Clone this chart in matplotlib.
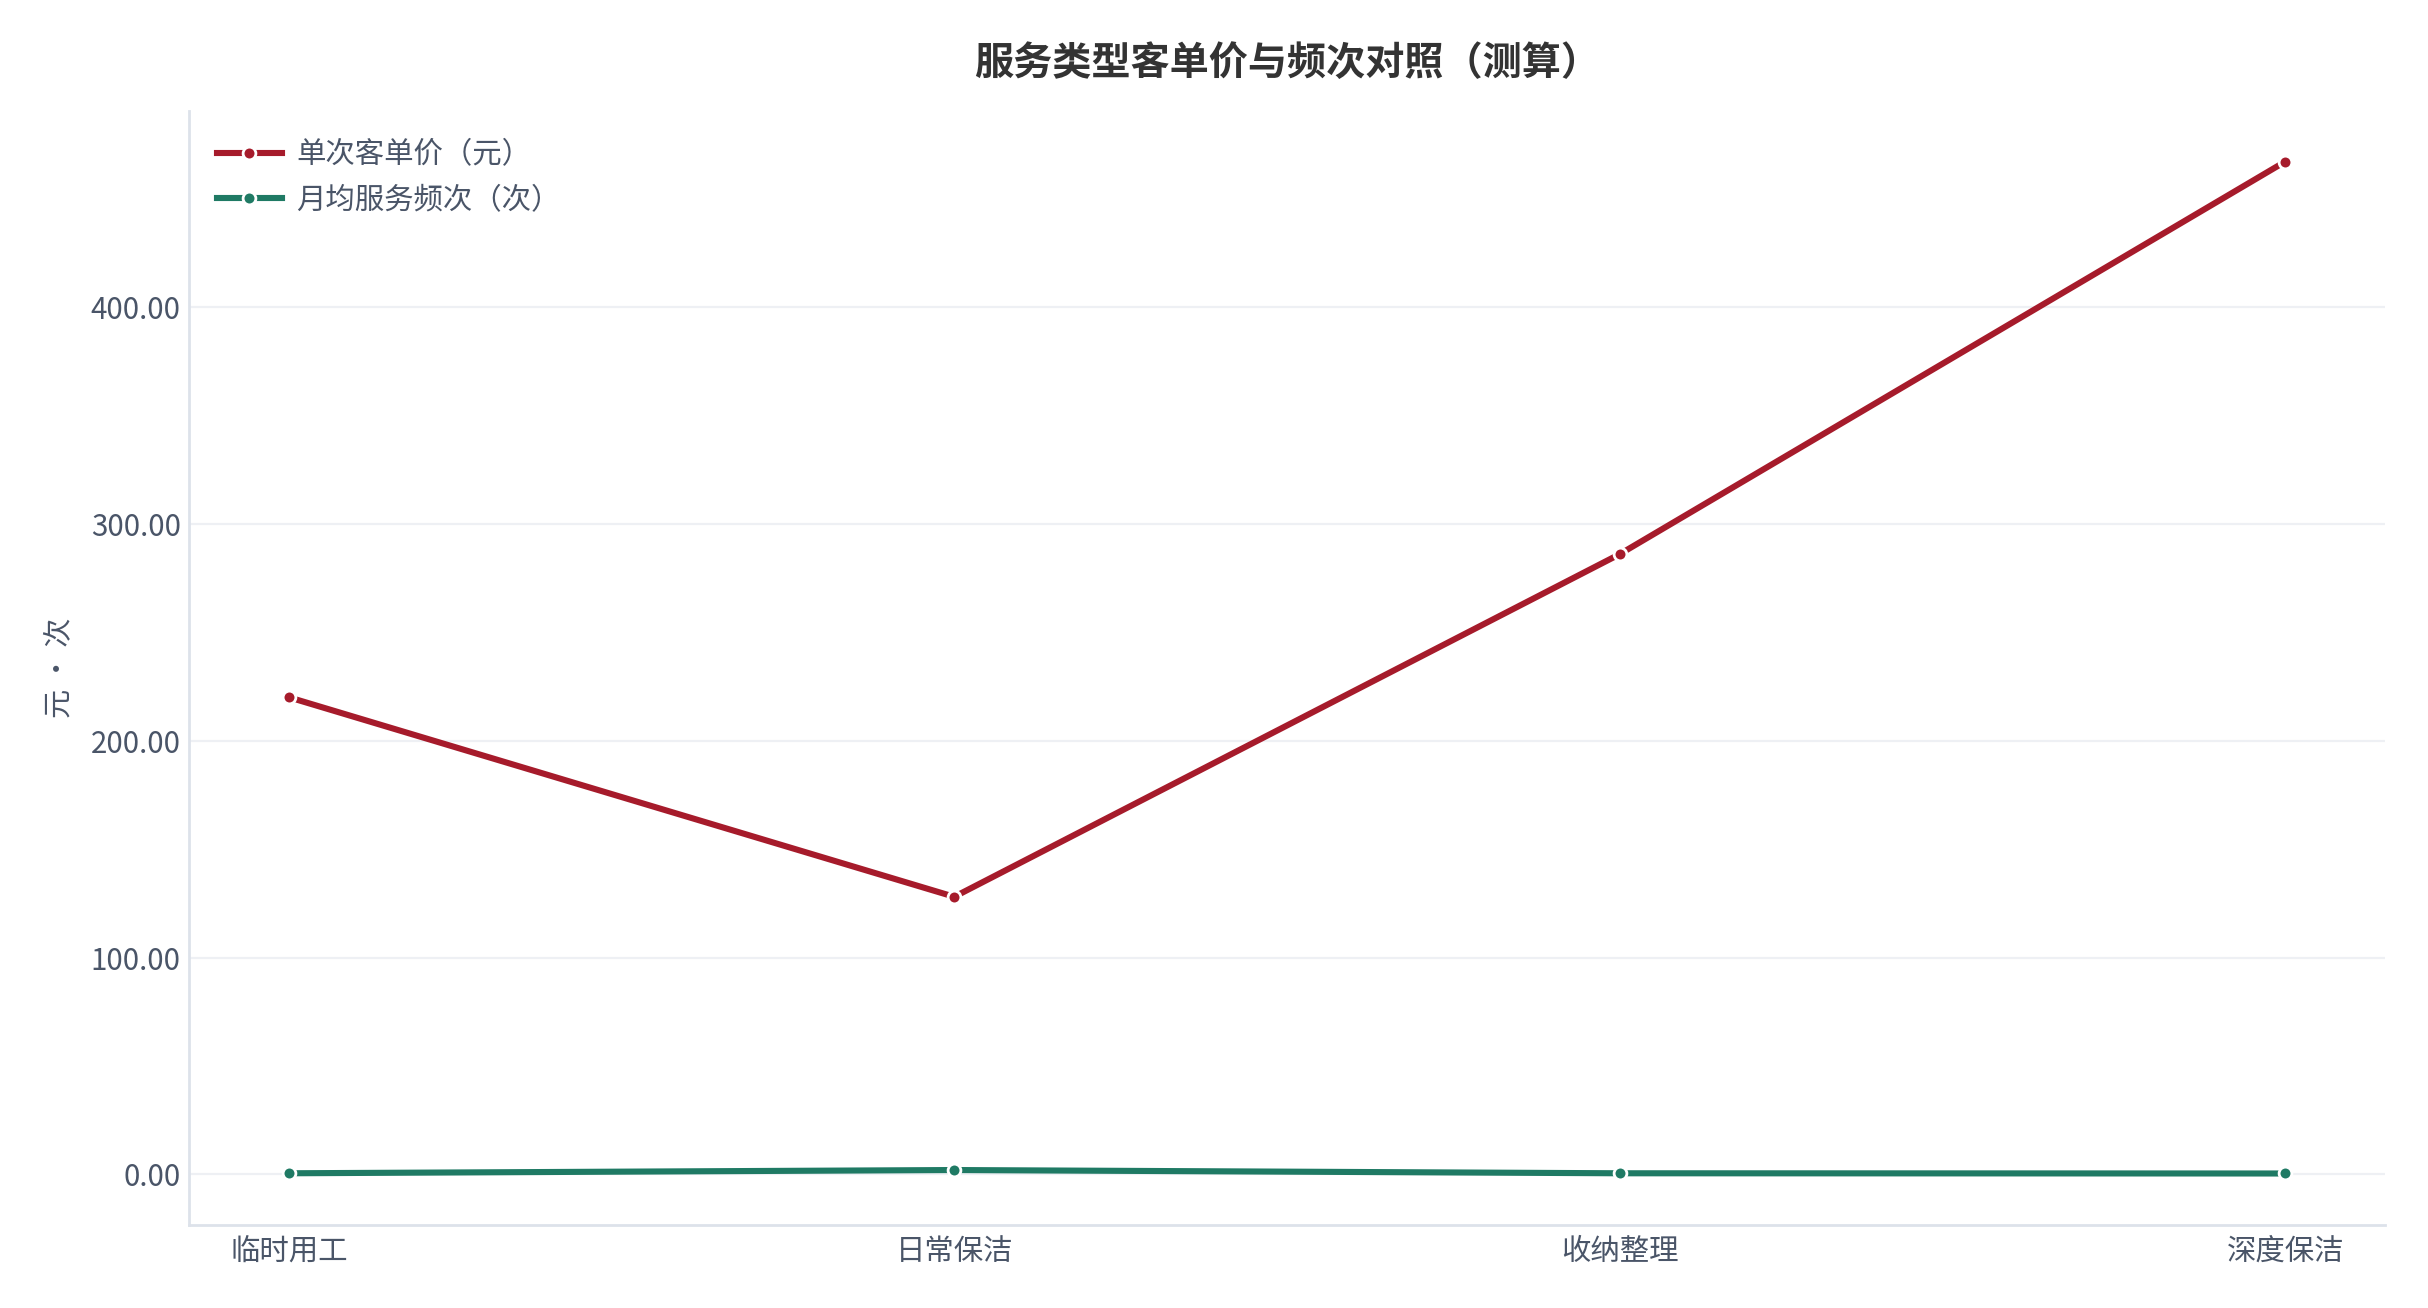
import matplotlib
matplotlib.use("Agg")
import matplotlib.pyplot as plt
from matplotlib.ticker import FormatStrFormatter

plt.rcParams["font.family"] = ["Noto Sans CJK SC", "DejaVu Sans"]

CATEGORIES = ["临时用工", "日常保洁", "收纳整理", "深度保洁"]
PRICE = [220, 128, 286, 467]          # 单次客单价（元）
FREQ = [0.5, 2.0, 0.5, 0.4]           # 月均服务频次（次）
SERIES_NAMES = ["单次客单价（元）", "月均服务频次（次）"]
TITLE = "服务类型客单价与频次对照（测算）"
YLABEL = "元 · 次"

TEXT = "#4a5568"
SPINE = "#dde2ea"
GRID = "#eef0f4"


def main():
    fig = plt.figure(figsize=(12.14, 6.54), dpi=200)
    ax = fig.add_axes([189 / 2428, 1 - 1225 / 1308, (2385 - 189) / 2428, (1225 - 111) / 1308])

    x = list(range(len(CATEGORIES)))
    for vals, name, c in zip([PRICE, FREQ], SERIES_NAMES, ["#a61b2b", "#1f7a64"]):
        ax.plot(x, vals, "-o", color=c, lw=2.2, ms=4.6, mec="white", mew=1.0,
                label=name, zorder=3)

    ax.set_xticks(x, CATEGORIES)
    ax.set_xlim(-0.15, 3.15)
    ax.set_ylim(-23.35, 490.35)
    ax.set_yticks([0, 100, 200, 300, 400])
    ax.yaxis.set_major_formatter(FormatStrFormatter("%.2f"))
    ax.tick_params(length=0, labelsize=10.6, labelcolor=TEXT)
    ax.tick_params(axis="x", pad=4)
    ax.tick_params(axis="y", pad=3)
    ax.grid(axis="y", color=GRID, lw=0.8, zorder=0)
    ax.set_axisbelow(True)
    for s in ["top", "right"]:
        ax.spines[s].set_visible(False)
    for s in ["left", "bottom"]:
        ax.spines[s].set_color(SPINE)
        ax.spines[s].set_linewidth(1.0)

    ax.set_ylabel(YLABEL, fontsize=10.5, color=TEXT, labelpad=6)
    ax.set_title(TITLE, fontsize=14.1, fontweight="bold", color="#333333", pad=13)
    ax.legend(loc="upper left", frameon=False, fontsize=10.6, labelcolor=TEXT,
              handlelength=2.2, handletextpad=0.5, borderaxespad=0.55,
              labelspacing=0.5, bbox_to_anchor=(0.0, 1.0))

    fig.savefig("out.png", dpi=200)


if __name__ == "__main__":
    main()
